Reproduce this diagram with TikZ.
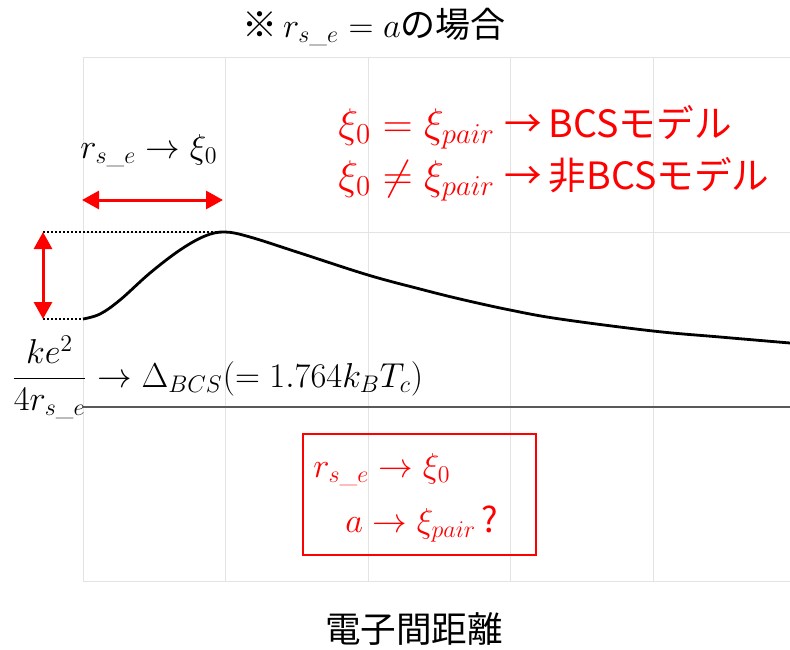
\documentclass[tikz,border=0pt]{standalone}
\usepackage{amsmath}
\usepackage{fontspec}
\newfontfamily\jp{Noto Sans CJK JP}
\usepackage{tikz}
\usetikzlibrary{arrows.meta, positioning}

\newcommand{\jpsize}{\jp\fontsize{17.5}{21}\selectfont}
\newcommand{\jpred}{\jp\fontsize{18.8}{22}\selectfont}

\tikzset{
  gridline/.style={draw=black!11, line width=0.5pt},
  axisline/.style={draw=black!65, line width=0.75pt},
  curve/.style={line width=1.4pt, line join=round},
  guide/.style={dash pattern=on 1pt off 1pt, line width=0.8pt},
  redarrow/.style={red, line width=1.5pt, {Triangle[length=8.5pt,width=9pt]}-{Triangle[length=8.5pt,width=9pt]}},
  lbl/.style={font=\fontsize{17.28}{21}\selectfont, inner sep=0pt, anchor=base west},
  biglbl/.style={lbl, font=\fontsize{20.74}{25}\selectfont},
  redlbl/.style={biglbl, text=red},
  boxline/.style={draw=red, line width=0.75pt}
}

\begin{document}
\begin{tikzpicture}[x=0.5pt, y=-0.5pt]
    \useasboundingbox (0,0) rectangle (790,649);

    % plot area
    \foreach \gx in {83,225.5,368,510.5,653}
        \draw[gridline] (\gx,57) -- (\gx,581);
    \foreach \gy in {57,232,581}
        \draw[gridline] (83,\gy) -- (790,\gy);
    \draw[axisline] (83,407) -- (790,407);

    \coordinate (base) at (83,319);
    \coordinate (peak) at (225,232);
    \coordinate (lefttop) at (43,232);
    \coordinate (leftbase) at (43,319);
    \coordinate (spanl) at (82,200);
    \coordinate (spanr) at (223,200);

    % energy curve
    \draw[curve] plot[smooth, tension=0.6] coordinates {(83,319) (100,314) (120,300) (150,273) (180,250) (205,236) (225,232) (250,237) (300,253) (368,275) (420,289) (460,299) (510,310) (560,319) (653,331) (720,337) (790,343)};

    \draw[guide] (lefttop) -- (peak);
    \draw[guide] (leftbase) -- (base);
    \draw[redarrow] (lefttop) -- (leftbase);
    \draw[redarrow] (spanl) -- (spanr);

    % labels
    \node[lbl] (title) at (242,37) {{\jpsize ※}\,$r_{s\_e} = a${\jpsize の場合}};
    \node[lbl] (span) at (80,158) {$r_{s\_e} \to \xi_0$};
    \node[redlbl] (bcs) at (338,137) {$\xi_0 = \xi_{pair}$\hspace{5pt}{\jpred →\,BCSモデル}};
    \node[redlbl] (nonbcs) at (338,189) {$\xi_0 \neq \xi_{pair}$\hspace{5pt}{\jpred →\,非BCSモデル}};
    \node[lbl] (gap) at (11,387) {$\dfrac{ke^2}{4r_{s\_e}} \to \Delta_{BCS}(= 1.764k_BT_c)$};

    % question box
    \draw[boxline] (303,434) rectangle (536,555);
    \node[lbl, text=red] (note1) at (313,477) {$r_{s\_e} \to \xi_0$};
    \node[lbl, text=red] (note2) at (345,532) {$a \to \xi_{pair}$\,{\jpsize ?}};

    \node[inner sep=0pt, font=\jp\fontsize{17.8}{21}\selectfont] (xlabel) at (414,629) {電子間距離};
\end{tikzpicture}
\end{document}
